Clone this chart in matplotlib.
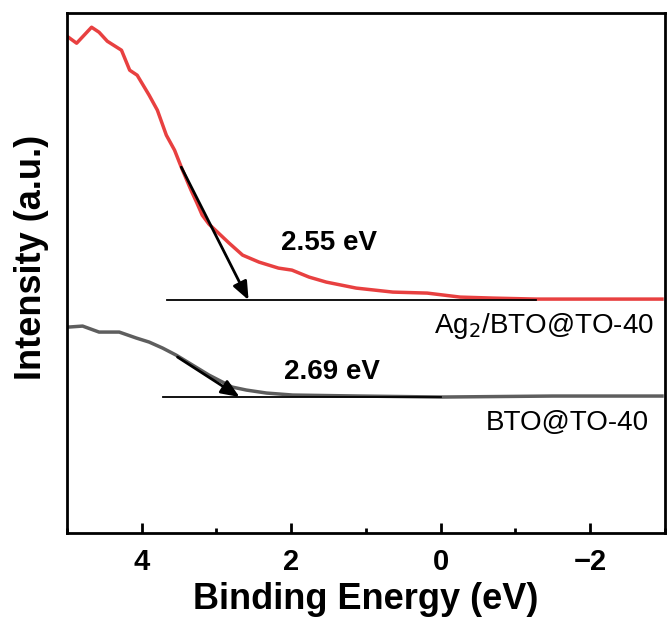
import numpy as np
import matplotlib.pyplot as plt
from matplotlib.ticker import MultipleLocator

plt.rcParams['font.family'] = ['Liberation Sans', 'DejaVu Sans']

# Ag2/BTO@TO-40 spectrum (binding energy, intensity a.u.)
ag_x = [4.98, 4.87, 4.67, 4.57, 4.46, 4.27, 4.16, 4.06, 3.90, 3.79, 3.67, 3.56,
        3.47, 3.34, 3.26, 3.19, 3.10, 3.00, 2.83, 2.65, 2.43, 2.17, 1.99, 1.76,
        1.53, 1.13, 0.64, 0.18, -0.26, -0.70, -1.28, -2.03, -2.96]
ag_y = [496, 490, 506, 501, 492, 483, 463, 458, 438, 423, 398, 383,
        366, 343, 330, 318, 309, 302, 290, 278, 271, 265, 263, 256,
        251, 245, 241, 240, 236, 235, 234, 234, 234]

# BTO@TO-40 spectrum
bto_x = [4.98, 4.79, 4.57, 4.30, 4.07, 3.90, 3.72, 3.54, 3.32, 3.10, 2.79, 2.60,
         2.33, 1.98, 1.09, -0.01, -1.50, -2.96]
bto_y = [206, 207, 201, 201, 195, 191, 185, 178, 168, 158, 146, 143,
         140, 138, 137, 136, 137, 137]

# baselines and tangent arrows: (x start, x end, y)
ag_base = (3.66, -1.28, 233)
bto_base = (3.72, -0.01, 136)
ag_arrow = ((3.47, 366), (2.57, 233))
bto_arrow = ((3.52, 176), (2.69, 136))
gap_labels = ['2.55 eV', '2.69 eV']

fig = plt.figure(figsize=(6.69, 6.30), dpi=100)
ax = fig.add_axes([0.100, 0.154, 0.894, 0.825])

ax.plot(ag_x, ag_y, color='#e84040', lw=2.5)
ax.plot(bto_x, bto_y, color='#5e5e5e', lw=2.5)

for x0, x1, yb in (ag_base, bto_base):
    ax.plot([x0, x1], [yb, yb], color='black', lw=1.3)

for (p0, p1) in (ag_arrow, bto_arrow):
    ax.annotate('', xy=p1, xytext=p0,
                arrowprops=dict(arrowstyle='-|>,head_length=1.1,head_width=0.45',
                                color='black', lw=2.0, shrinkA=0, shrinkB=0))

ax.text(1.50, 290, gap_labels[0], fontsize=20, fontweight='bold',
        ha='center', va='center')
ax.text(1.45, 161, gap_labels[1], fontsize=20, fontweight='bold',
        ha='center', va='center')
ax.text(-2.85, 207, r'Ag$_2$/BTO@TO-40', fontsize=20, ha='right', va='center')
ax.text(-2.79, 110, 'BTO@TO-40', fontsize=20, ha='right', va='center')

ax.set_xlim(5, -3)
ax.set_ylim(0, 520)
ax.xaxis.set_major_locator(MultipleLocator(2))
ax.xaxis.set_minor_locator(MultipleLocator(1))
ax.tick_params(axis='x', which='major', direction='in', length=7, width=2,
               labelsize=21, pad=11)
ax.tick_params(axis='x', which='minor', direction='in', length=3.5, width=2)
for lab in ax.get_xticklabels():
    lab.set_fontweight('bold')
ax.set_yticks([])
for s in ax.spines.values():
    s.set_linewidth(2)

ax.set_xlabel('Binding Energy (eV)', fontsize=26, fontweight='bold', labelpad=4)
ax.set_ylabel('Intensity (a.u.)', fontsize=26, fontweight='bold')
ax.yaxis.set_label_coords(-0.03, 0.53)

fig.savefig('out.png', dpi=100)
